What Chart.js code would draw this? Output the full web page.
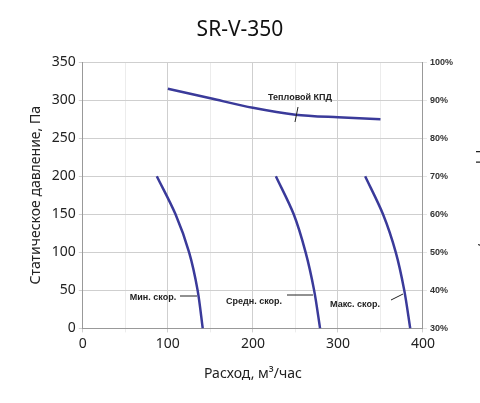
<!DOCTYPE html><html><head><meta charset="utf-8">
<script src="https://cdn.jsdelivr.net/npm/chart.js@4"></script>
<style>body{margin:0;background:#fff}#w{width:480px;height:403px}</style></head><body><div id="w"><canvas id="c"></canvas></div>
<script>
const minFlow=[87,109,125,135,141], minPress=[200,150,100,50,0];
const midFlow=[227,248,262,272,279], midPress=[200,150,100,50,0];
const maxFlow=[332,353,368,378,385], maxPress=[200,150,100,50,0];
const effFlow=[100,150,200,250,300,350], effPct=[93,90.5,88,86.2,85.5,85];
const pts=(xs,ys)=>xs.map((x,i)=>({x,y:ys[i]}));
const ds=(d,ax)=>({data:d,yAxisID:ax||'y',borderColor:'#3a3a9a',borderWidth:2.5,pointRadius:0,tension:0.3,showLine:true,fill:false});
const labels=[
 {t:'Тепловой КПД',x:300,y:98,l:[298,107,295,122]},
 {t:'Мин. скор.',x:153,y:298,l:[180,296,197,296]},
 {t:'Средн. скор.',x:254,y:302,l:[287,295,313,295]},
 {t:'Макс. скор.',x:355,y:305,l:[391,300,403,294]}];
const ann={id:'ann',afterDatasetsDraw(c){const g=c.ctx;g.save();g.font='bold 9px "Liberation Sans",Arial';g.fillStyle='#222';g.strokeStyle='#222';g.lineWidth=1;g.textAlign='center';g.textBaseline='middle';
 labels.forEach(a=>{g.fillText(a.t,a.x,a.y);g.beginPath();g.moveTo(a.l[0],a.l[1]);g.lineTo(a.l[2],a.l[3]);g.stroke();});
 g.save();g.translate(484,200);g.rotate(Math.PI/2);g.font='14px "Noto Sans"';g.fillStyle='#222';g.fillText('Эффективность, %',0,0);g.restore();g.restore();}};
new Chart(document.getElementById('c'),{type:'scatter',
data:{datasets:[ds(pts(minFlow,minPress)),ds(pts(midFlow,midPress)),ds(pts(maxFlow,maxPress)),ds(pts(effFlow,effPct),'y2')]},
options:{responsive:true,maintainAspectRatio:false,animation:false,
layout:{padding:{left:24,right:24,top:17,bottom:17}},
plugins:{legend:{display:false},tooltip:{enabled:false},
 title:{display:true,text:'SR-V-350',font:{size:21,family:'Noto Sans',weight:'normal'},color:'#111',padding:{top:0,bottom:20}}},
scales:{
 x:{type:'linear',min:0,max:400,ticks:{stepSize:50,font:{size:14,family:'Noto Sans'},color:'#222',callback:v=>v%100===0?v:''},
  grid:{color:c=>c.tick.value%100===0?'#cfcfcf':'#ececec',tickLength:4},border:{color:'#999'},
  title:{display:true,text:'Расход, м³/час',font:{size:14,family:'Noto Sans'},color:'#222',padding:{top:10}}},
 y:{min:0,max:350,ticks:{stepSize:25,font:{size:14,family:'Noto Sans'},color:'#222',callback:v=>v%50===0?v:''},
  grid:{color:c=>c.tick.value%50===0?'#cfcfcf':'#ececec',tickLength:4},border:{color:'#999'},
  title:{display:true,text:'Статическое давление, Па',font:{size:14,family:'Noto Sans'},color:'#222'}},
 y2:{position:'right',min:30,max:100,ticks:{stepSize:10,font:{size:9,family:'Liberation Sans',weight:'bold'},color:'#333',callback:v=>v+'%'},
  grid:{drawOnChartArea:false,tickLength:4},border:{color:'#999'}}}},
plugins:[ann]});
</script></body></html>
